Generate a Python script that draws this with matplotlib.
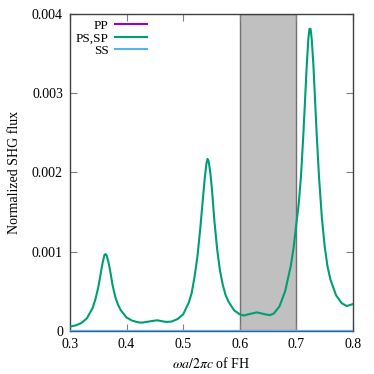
import matplotlib
matplotlib.use("Agg")
import matplotlib.pyplot as plt
from matplotlib.ticker import FixedLocator, FuncFormatter

plt.rcParams['font.family'] = ['Liberation Serif', 'DejaVu Serif']
plt.rcParams['mathtext.fontset'] = 'stix'

# frequency (wa/2pic of FH) and normalized SHG flux
freq = [0.300, 0.310, 0.320, 0.330, 0.340, 0.345, 0.350, 0.355, 0.358, 0.361,
        0.363, 0.365, 0.368, 0.371, 0.375, 0.380, 0.385, 0.390, 0.400, 0.410,
        0.420, 0.427, 0.440, 0.454, 0.465, 0.471, 0.480, 0.490, 0.500, 0.510,
        0.515, 0.520, 0.525, 0.530, 0.535, 0.538, 0.541, 0.543, 0.545, 0.548,
        0.551, 0.555, 0.560, 0.565, 0.570, 0.575, 0.580, 0.590, 0.600, 0.607,
        0.615, 0.630, 0.645, 0.653, 0.660, 0.670, 0.680, 0.690, 0.695, 0.700,
        0.704, 0.708, 0.712, 0.715, 0.718, 0.721, 0.723, 0.725, 0.727, 0.730,
        0.733, 0.736, 0.740, 0.745, 0.750, 0.755, 0.760, 0.770, 0.780, 0.789,
        0.800]
flux_ps = [0.000055, 0.00007, 0.00010, 0.00016, 0.00029, 0.00040, 0.00055, 0.00075, 0.00087, 0.00096,
           0.00097, 0.00095, 0.00087, 0.00076, 0.00059, 0.00043, 0.00033, 0.00026, 0.00017, 0.00013,
           0.00011, 0.000105, 0.00012, 0.000135, 0.00012, 0.000114, 0.00012, 0.00015, 0.00021, 0.00036,
           0.00048, 0.00068, 0.00093, 0.00128, 0.00168, 0.00192, 0.00211, 0.00217, 0.00214, 0.00199,
           0.00177, 0.00140, 0.00103, 0.00076, 0.00058, 0.00045, 0.00037, 0.00026, 0.00021, 0.000195,
           0.00021, 0.000235, 0.00021, 0.00020, 0.00022, 0.00031, 0.00050, 0.00082, 0.00105, 0.00136,
           0.00160, 0.00195, 0.00245, 0.00288, 0.00332, 0.00368, 0.00381, 0.00381, 0.00368, 0.00335,
           0.00290, 0.00245, 0.00193, 0.00142, 0.00106, 0.00081, 0.00065, 0.00045, 0.00035, 0.000315,
           0.00034]
flux_pp = [0.0] * len(freq)
flux_ss = [0.0] * len(freq)

band_gap = [0.6, 0.7]
xticks = [0.3, 0.4, 0.5, 0.6, 0.7, 0.8]
yticks = [0, 0.001, 0.002, 0.003, 0.004]

fig = plt.figure(figsize=(3.74, 3.74), dpi=100)
ax = fig.add_axes([0.187, 0.115, 0.757, 0.848])

ax.axvspan(band_gap[0], band_gap[1], facecolor='#c0c0c0', edgecolor='#707070', lw=1.0, zorder=0)

ax.plot(freq, flux_pp, color='#9400d3', lw=1.5, label='PP', zorder=3)
ax.plot(freq, flux_ps, color='#009e73', lw=1.5, label='PS,SP', zorder=3)
ax.plot(freq, flux_ss, color='#56b4e9', lw=1.5, label='SS', zorder=3)

ax.set_xlim(0.3, 0.8)
ax.set_ylim(0, 0.004)
ax.xaxis.set_major_locator(FixedLocator(xticks))
ax.yaxis.set_major_locator(FixedLocator(yticks))
ax.xaxis.set_major_formatter(FuncFormatter(lambda v, p: '%.1f' % v))
ax.yaxis.set_major_formatter(FuncFormatter(lambda v, p: '0' if v == 0 else '%.3f' % v))
ax.tick_params(direction='in', length=5, width=0.8, color='#808080', labelsize=10,
               top=True, right=True, pad=5)
for s in ax.spines.values():
    s.set_color('#404040')
    s.set_linewidth(1.0)
ax.spines['bottom'].set_color('#3a5f8a')

ax.set_xlabel(r'$\omega a/2\pi c$ of FH', fontsize=10, labelpad=4)
ax.set_ylabel('Normalized SHG flux', fontsize=10, labelpad=8)

ax.legend(loc='upper left', markerfirst=False, frameon=False, fontsize=9.5,
          handlelength=2.4, handletextpad=0.5, labelspacing=0.02,
          borderaxespad=0.15, borderpad=0.3, bbox_to_anchor=(0.0, 1.0))

fig.savefig('out.png', dpi=100)
